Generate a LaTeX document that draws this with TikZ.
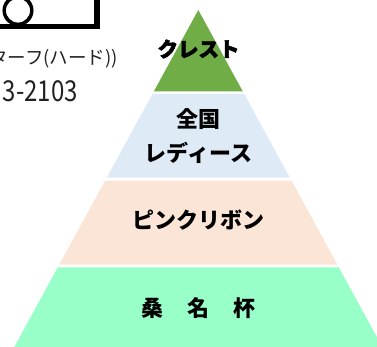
\documentclass[tikz,border=0pt]{standalone}
\usepackage{fontspec}
\usepackage{graphicx}
\newfontfamily\jp{Noto Sans CJK JP}
\newfontfamily\jpheavy[FakeBold=2.5]{Noto Sans CJK JP}
\newfontfamily\jpring[FakeBold=7]{Noto Sans CJK JP}
\definecolor{tierA}{HTML}{70AD47}
\definecolor{tierB}{HTML}{DEEBF7}
\definecolor{tierC}{HTML}{FBE5D6}
\definecolor{tierD}{HTML}{99FFC8}
\definecolor{sidetext}{HTML}{222222}
\tikzset{
  tierlabel/.style={inner sep=0pt, font=\jp\bfseries\fontsize{22}{30}\selectfont, align=center, text=black},
  sidelabel/.style={inner sep=0pt, anchor=east, text=sidetext},
}
\begin{document}
\begin{tikzpicture}[x=1pt,y=-1pt]
\useasboundingbox (0,0) rectangle (377,347);
\clip (0,0) rectangle (377,347);
% pyramid tiers
\fill[tierA] (198.3,10) -- (242.8,91.5) -- (153.8,91.5) -- cycle;
\fill[tierB] (152.4,94) -- (244.2,94) -- (289.9,177.7) -- (106.7,177.7) -- cycle;
\fill[tierC] (105.1,180.7) -- (291.5,180.7) -- (337.3,264.5) -- (59.3,264.5) -- cycle;
\fill[tierD] (57.8,267.3) -- (338.8,267.3) -- (389.4,360) -- (7.2,360) -- cycle;
% box at top left
\draw[line width=5.5pt] (-20,-20) rectangle (97,26.3);
\node[inner sep=0pt, font=\jpring\fontsize{32}{32}\selectfont] (circ) at (18,10.5) {○};
% side texts
\node[sidelabel, font=\jp\fontsize{18.5}{19}\selectfont] (turf) at (118,58.5) {ターフ(ハード))};
\node[sidelabel, font=\jp\fontsize{24}{25}\selectfont] (num) at (78,91) {\scalebox{1}[1.2]{3-2103}};
% tier labels
\node[tierlabel, font=\jpheavy\bfseries\fontsize{20.5}{24}\selectfont] (crest) at (198.5,49) {クレスト};
\node[tierlabel] (ladies1) at (198.5,119) {全国};
\node[tierlabel] (ladies2) at (198.5,152.5) {レディース};
\node[tierlabel] (pink) at (198.5,220.5) {ピンクリボン};
\node[tierlabel] (kuwana) at (198.5,308) {桑\hspace{0.1em}　名\hspace{0.1em}　杯};
\end{tikzpicture}
\end{document}
